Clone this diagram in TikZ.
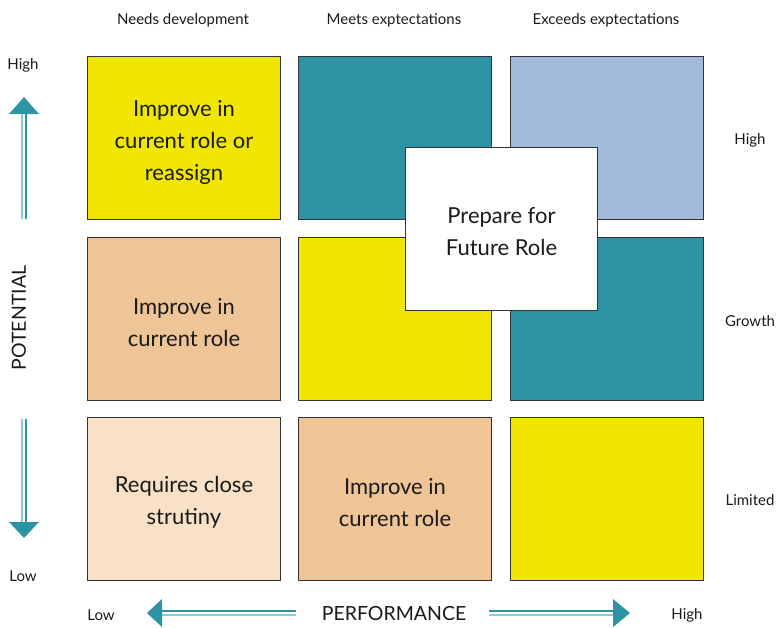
\documentclass[tikz,border=0pt]{standalone}
\usepackage{fontspec}
\setmainfont{Lato}
\begin{document}
\definecolor{gyellow}{HTML}{F0E600}
\definecolor{gteal}{HTML}{2E93A5}
\definecolor{glight}{HTML}{8FC9D4}
\definecolor{gblue}{HTML}{A2BBD9}
\definecolor{gtan}{HTML}{EFC597}
\definecolor{gpale}{HTML}{F8E1C6}
\definecolor{gedge}{HTML}{333333}
\definecolor{gtext}{HTML}{1A1A1A}
\begin{tikzpicture}[x=1pt,y=-1pt,
  cell/.style={draw=gedge,line width=1pt,minimum width=193pt,minimum height=163pt,
    inner sep=0pt,anchor=north west},
  celltext/.style={align=center,text=gtext,inner sep=0pt,
    font=\fontsize{22}{32}\selectfont},
  axislbl/.style={text=gtext,font=\fontsize{15}{16}\selectfont,inner sep=0pt},
  axistitle/.style={text=gtext,font=\fontsize{19.5}{20}\selectfont,inner sep=0pt},
  head/.style={fill=gteal,draw=none},
  shaftlight/.style={draw=glight,line width=1.4pt},
  shaftdark/.style={draw=gteal,line width=1.4pt}]
\useasboundingbox (0,0) rectangle (778,627);

% column headings
\node[axislbl] (hneeds) at (183,20) {Needs development};
\node[axislbl] (hmeets) at (394,20) {Meets exptectations};
\node[axislbl] (hexceeds) at (606,20) {Exceeds exptectations};

% row headings
\node[axislbl] (rhigh) at (750,140) {High};
\node[axislbl] (rgrowth) at (750,321) {Growth};
\node[axislbl] (rlimited) at (750,500) {Limited};

% the nine cells
\node[cell,fill=gyellow] (c11) at (87,56) {};
\node[cell,fill=gteal] (c12) at (298,56) {};
\node[cell,fill=gblue] (c13) at (510,56) {};
\node[cell,fill=gtan] (c21) at (87,236.5) {};
\node[cell,fill=gyellow] (c22) at (298,236.5) {};
\node[cell,fill=gteal] (c23) at (510,236.5) {};
\node[cell,fill=gpale] (c31) at (87,416.5) {};
\node[cell,fill=gtan] (c32) at (298,416.5) {};
\node[cell,fill=gyellow] (c33) at (510,416.5) {};

\node[celltext] (t11) at ([yshift=-4pt]c11.center) {Improve in\\current role or\\reassign};
\node[celltext] (t21) at ([yshift=-4pt]c21.center) {Improve in\\current role};
\node[celltext] (t31) at ([yshift=-4pt]c31.center) {Requires close\\strutiny};
\node[celltext] (t32) at ([yshift=-4pt]c32.center) {Improve in\\current role};

% centre box overlapping four cells
\node[cell,fill=white,minimum width=192pt] (future) at (405,147) {};
\node[celltext] (tfuture) at ([yshift=-3pt]future.center) {Prepare for\\Future Role};

% vertical axis: potential
\node[axislbl] (vhigh) at (23,65) {High};
\node[axislbl] (vlow) at (23,576) {Low};
\node[axistitle,rotate=90] (potential) at (19,318) {POTENTIAL};

\coordinate (uptip) at (24,97);
\coordinate (upbase) at (24,114);
\coordinate (upend) at (24,219);
\fill[head] (uptip) -- ([xshift=-15pt]upbase) -- ([xshift=15pt]upbase) -- cycle;
\draw[shaftlight] ([xshift=-2pt]upbase) -- ([xshift=-2pt]upend);
\draw[shaftdark] ([xshift=2pt]upbase) -- ([xshift=2pt]upend);

\coordinate (dntop) at (24,419);
\coordinate (dnbase) at (24,522);
\coordinate (dntip) at (24,538);
\fill[head] (dntip) -- ([xshift=-15pt]dnbase) -- ([xshift=15pt]dnbase) -- cycle;
\draw[shaftlight] ([xshift=-2pt]dntop) -- ([xshift=-2pt]dnbase);
\draw[shaftdark] ([xshift=2pt]dntop) -- ([xshift=2pt]dnbase);

% horizontal axis: performance
\node[axislbl] (plow) at (101,615) {Low};
\node[axislbl] (phigh) at (687,615) {High};
\node[axistitle] (performance) at (394,614) {PERFORMANCE};

\coordinate (lftip) at (147,613);
\coordinate (lfbase) at (162,613);
\coordinate (lfend) at (296,613);
\fill[head] (lftip) -- ([yshift=-14pt]lfbase) -- ([yshift=14pt]lfbase) -- cycle;
\draw[shaftlight] ([yshift=-2pt]lfbase) -- ([yshift=-2pt]lfend);
\draw[shaftdark] ([yshift=2pt]lfbase) -- ([yshift=2pt]lfend);

\coordinate (rtstart) at (489,613);
\coordinate (rtbase) at (613,613);
\coordinate (rttip) at (630,613);
\fill[head] (rttip) -- ([yshift=-14pt]rtbase) -- ([yshift=14pt]rtbase) -- cycle;
\draw[shaftlight] ([yshift=-2pt]rtstart) -- ([yshift=-2pt]rtbase);
\draw[shaftdark] ([yshift=2pt]rtstart) -- ([yshift=2pt]rtbase);
\end{tikzpicture}
\end{document}
